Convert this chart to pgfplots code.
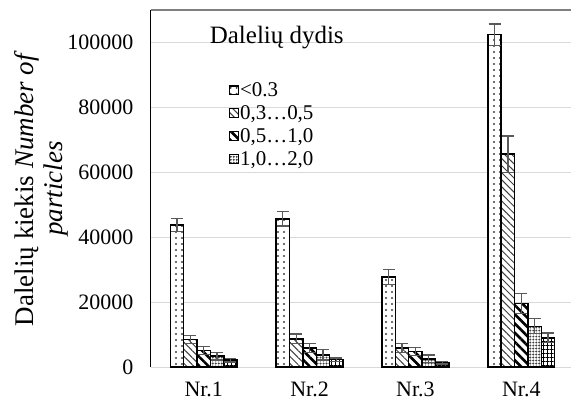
\documentclass[border=0pt]{standalone}
\usepackage{pgfplots}
\pgfplotsset{compat=1.18}
\usepackage{fontspec}
\setmainfont{Liberation Serif}
\usetikzlibrary{patterns,patterns.meta}
\definecolor{gridc}{HTML}{D9D9D9}
\definecolor{errc}{HTML}{595959}
\definecolor{patc}{HTML}{404040}
\definecolor{topc}{HTML}{7F7F7F}
\pgfplotsset{
  eb/.style={
    error bars/.cd,
      y dir=both, y explicit,
      error bar style={draw=errc, line width=1.3bp},
      error mark options={rotate=90, mark size=6bp, draw=errc, line width=1.3bp},
  },
}
\begin{document}
\begin{tikzpicture}
\begin{axis}[
  name=ax,
  scale only axis, width=421bp, height=357.7bp,
  ybar=0pt, bar width=13.4bp,
  xmin=-0.5, xmax=3.472, ymin=0, ymax=110000,
  xtick={0,1,2,3}, xticklabels={Nr.1,Nr.2,Nr.3,Nr.4},
  ytick={0,20000,40000,60000,80000,100000},
  yticklabels={0,20000,40000,60000,80000,100000},
  ymajorgrids, grid style={draw=gridc, line width=1.2bp},
  major tick length=0pt,
  axis line style={draw=none},
  clip=false,
  scaled y ticks=false,
  tick label style={font=\fontsize{22bp}{27bp}\selectfont},
  yticklabel style={xshift=-14bp},
  xticklabel style={yshift=-11bp},
  ylabel={Dalelių kiekis \textit{Number of}\\ \textit{particles}},
  every axis y label/.style={at={(rel axis cs:0,0.5)}, anchor=center, xshift=-110bp, rotate=90, align=center, font=\fontsize{27bp}{29bp}\selectfont},
  legend style={at={(rel axis cs:0.185,0.80)}, anchor=north west, draw=none, fill=none,
    font=\fontsize{21bp}{21bp}\selectfont, row sep=5.5bp, inner sep=0pt, nodes={inner sep=1bp}},
  legend cell align=left,
  legend image code/.code={\draw[#1, line width=1.3bp] (0bp,-4.5bp) rectangle (9bp,4.5bp);},
]
\addplot[draw=black, line width=1.5bp, fill=white, postaction={pattern={Dots[distance=6bp, radius=1.1bp, xshift=3bp]}, pattern color=patc}, eb]
  coordinates {(0,43800) +- (0,2000) (1,45650) +- (0,2200) (2,27800) +- (0,2300) (3,102400) +- (0,3300)};
\addplot[draw=black, line width=1.5bp, fill=white, postaction={pattern={Lines[angle=-45, distance=5bp, line width=1bp]}, pattern color=patc}, eb]
  coordinates {(0,8500) +- (0,1200) (1,8700) +- (0,1500) (2,5850) +- (0,1400) (3,65600) +- (0,5600)};
\addplot[draw=black, line width=1.5bp, fill=white, postaction={pattern={Lines[angle=-45, distance=6.5bp, line width=2.6bp]}, pattern color=black}, eb]
  coordinates {(0,5200) +- (0,1200) (1,5850) +- (0,1400) (2,4850) +- (0,1300) (3,19600) +- (0,3000)};
\addplot[draw=black, line width=1.5bp, fill=white, postaction={pattern={Dots[distance=3bp, radius=1.1bp]}, pattern color=patc}, eb]
  coordinates {(0,3400) +- (0,1200) (1,3800) +- (0,1600) (2,2600) +- (0,1200) (3,12600) +- (0,2300)};
\addplot[draw=black, line width=1.5bp, fill=white, postaction={pattern={Hatch[distance=4bp, line width=1.4bp, angle=0]}, pattern color=black}, eb]
  coordinates {(0,2150) +- (0,550) (1,2350) +- (0,500) (2,1350) +- (0,400) (3,9050) +- (0,1500)};
\legend{{<0.3},{0,3…0,5},{0,5…1,0},{1,0…2,0}}
\draw[black, line width=1bp] (rel axis cs:0,0) -- (rel axis cs:0,1);
\draw[topc, line width=1.5bp] (rel axis cs:0,1) -- (rel axis cs:1,1);
\node[anchor=base west, font=\fontsize{25bp}{25bp}\selectfont, inner sep=0pt] at (rel axis cs:0.14,0.905) {Dalelių dydis};
\end{axis}
\path (-151bp,-38.3bp) rectangle (421bp,367.7bp);
\end{tikzpicture}
\end{document}
